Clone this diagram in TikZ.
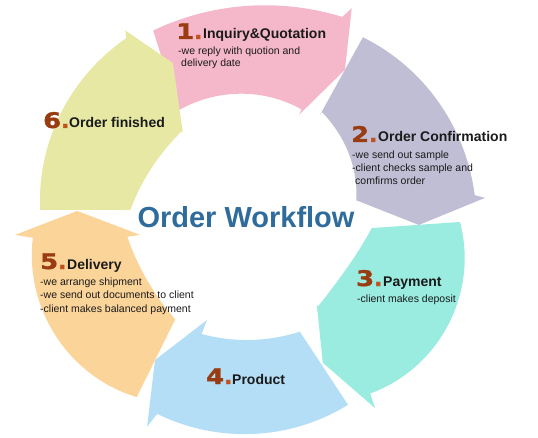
\documentclass[tikz,border=0pt]{standalone}
\usepackage{fontspec}
\setmainfont{Liberation Sans}
\newfontfamily\numfont[BoldFeatures={FakeBold=1.5}]{DejaVu Sans}
\definecolor{pinkc}{HTML}{F5B8CB}
\definecolor{grayc}{HTML}{BFBED4}
\definecolor{tealc}{HTML}{9AEBE0}
\definecolor{bluec}{HTML}{B3DEF5}
\definecolor{orangec}{HTML}{FBD49A}
\definecolor{yellowc}{HTML}{E7E8A3}
\definecolor{numc}{HTML}{9A3C12}
\definecolor{dotc}{HTML}{C0521E}
\definecolor{titlec}{HTML}{2F6C9B}
\definecolor{txtc}{HTML}{1A1A1A}
\newcommand\nb[1]{\scalebox{1.2}[1]{#1}\textcolor{dotc}{.}}
\begin{document}
\begin{tikzpicture}[x=1pt,y=1pt,
  declare function={rr(\t,\a,\b,\p,\q,\c)=(\p)+((\q)-(\p))*((\t-(\a))/((\b)-(\a)))+4*(\c)*((\t-(\a))/((\b)-(\a)))*(1-(\t-(\a))/((\b)-(\a)));},
  pl/.style={domain=#1,samples=30,variable=\t},
  num/.style={font=\numfont\fontsize{21.5}{22}\selectfont\bfseries, text=numc, inner sep=0, anchor=base west},
  hd/.style={font=\fontsize{14}{14}\selectfont\bfseries, text=txtc, inner sep=0, anchor=base west},
  bd/.style={font=\fontsize{10.5}{12}\selectfont, text=txtc, inner sep=0, anchor=base west},
  ttl/.style={font=\fontsize{29}{29}\selectfont\bfseries, text=titlec, inner sep=0, anchor=base}]
\useasboundingbox (0,0) rectangle (538,437);
\begin{scope}[shift={(248,218)}]
% 1 pink
\fill[pinkc] (122.7:129) -- (116.7:211)
  -- plot[pl=116.7:65] (\t:{rr(\t,116.7,65,211,223,-4)})
  -- (63.8:235) -- (57:178) -- (63.9:116)
  -- plot[pl=64:122.7] (\t:{rr(\t,64,122.7,122,129,0)}) -- cycle;
% 2 gray
\fill[grayc] (55.3:126) -- (57.7:215)
  -- plot[pl=57.7:6] (\t:{rr(\t,57.7,6,215,228,2)})
  -- (5.1:238) -- (-2:171) -- (10.1:109)
  -- plot[pl=10:55.3] (\t:{rr(\t,10,55.3,110,130,0)}) -- cycle;
% 3 teal
\fill[tealc] (-4.2:124) -- (-0.8:212)
  -- plot[pl=-0.8:-55] (\t:{rr(\t,-0.8,-55,212,213,14)})
  -- (-56.1:228) -- (-62.5:162) -- (-51.3:110)
  -- plot[pl=-51.3:-4.2] (\t:{rr(\t,-51.3,-4.2,112,124,-8)}) -- cycle;
% 4 blue
\fill[bluec] (-65.3:124) -- (-61.7:211)
  -- plot[pl=-61.7:-115] (\t:{rr(\t,-61.7,-115,211,215,2)})
  -- (-115.9:231) -- (-123.4:169) -- (-112.1:109)
  -- plot[pl=-112:-65.3] (\t:{rr(\t,-112,-65.3,124,124,-3)}) -- cycle;
% 5 orange
\fill[orangec] (234.1:124.5) -- (238:210)
  -- plot[pl=238:185] (\t:{rr(\t,238,185,210,216,12)})
  -- (183.9:233.5) -- (177.3:171) -- (188.4:109)
  -- plot[pl=188.4:234.1] (\t:{rr(\t,188.4,234.1,122,124,-5)}) -- cycle;
% 6 yellow
\fill[yellowc] (175.7:120) -- (177.5:208)
  -- plot[pl=177.5:124] (\t:{rr(\t,177.5,124,208,218,2)})
  -- (123.05:225) -- (115.7:173) -- (127.1:108)
  -- plot[pl=127:175.7] (\t:{rr(\t,127,175.7,110,118,-5)}) -- cycle;
\end{scope}
% title
\node[ttl] (title) at (246,210) {Order Workflow};
% 1
\node[num] (n1) at (176,398) {\nb{1}};
\node[hd] (h1) at (203,398) {Inquiry\&Quotation};
\node[bd] (b1a) at (178,382) {-we reply with quotion and};
\node[bd] (b1b) at (181,370) {delivery date};
% 2
\node[num] (n2) at (351,295) {\nb{2}};
\node[hd] (h2) at (378,295) {Order Confirmation};
\node[bd] (b2a) at (352,278) {-we send out sample};
\node[bd] (b2b) at (352,265) {-client checks sample and};
\node[bd] (b2c) at (355,252) {comfirms order};
% 3
\node[num] (n3) at (356,151) {\nb{3}};
\node[hd] (h3) at (383,151) {Payment};
\node[bd] (b3a) at (357,135) {-client makes deposit};
% 4
\node[num] (n4) at (206,53) {\nb{4}};
\node[hd] (h4) at (232,53) {Product};
% 5
\node[num] (n5) at (40,168) {\nb{5}};
\node[hd] (h5) at (67,168) {Delivery};
\node[bd] (b5a) at (40,152) {-we arrange shipment};
\node[bd] (b5b) at (40,139) {-we send out documents to client};
\node[bd] (b5c) at (40,125) {-client makes balanced payment};
% 6
\node[num] (n6) at (43,309) {\nb{6}};
\node[hd] (h6) at (69,309) {Order finished};
\end{tikzpicture}
\end{document}
